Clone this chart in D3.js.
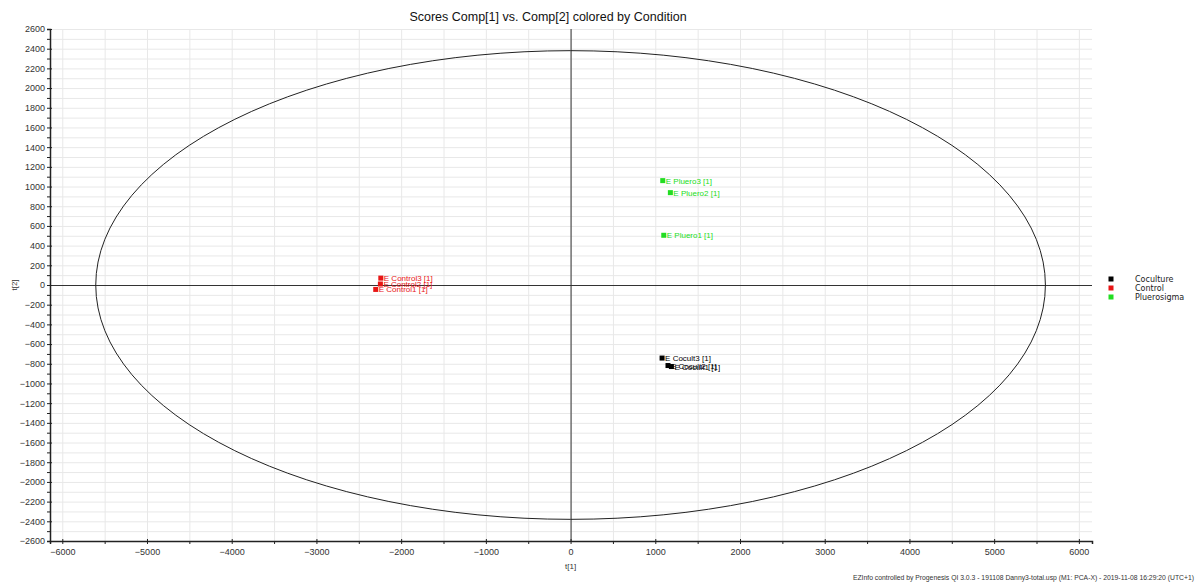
<!DOCTYPE html>
<html>
<head>
<meta charset="utf-8">
<script src="https://cdn.jsdelivr.net/npm/d3@7"></script>
<style>
body { margin:0; background:#fff; }
svg { display:block; }
</style>
</head>
<body>
<svg></svg>
<script>
var screen = {width:1197, height:585}
var margins = {top:29, right:105, bottom:44, left:50}

// observations
var obsNames = ["E Control3 [1]","E Control2 [1]","E Control1 [1]",
                "E Pluero3 [1]","E Pluero2 [1]","E Pluero1 [1]",
                "E Cocult3 [1]","E Cocult2 [1]","E Cocult1 [1]"]
var obsT1 = [-2240,-2245,-2300, 1088,1178,1100, 1080,1150,1190]
var obsT2 = [70,10,-45, 1060,938,505, -742,-818,-828]
var obsGroup = ["Control","Control","Control",
                "Pluerosigma","Pluerosigma","Pluerosigma",
                "Coculture","Coculture","Coculture"]

var groups = ["Coculture","Control","Pluerosigma"]
var groupColors = ["#000000","#e81515","#22dd22"]

var xTicks = d3.range(-6000, 6001, 1000)
var xMinor = d3.range(-5500, 6000, 1000)
var yTicks = d3.range(-2600, 2601, 200)
var yMinor = d3.range(-2500, 2600, 200)

// Hotelling T2 ellipse radii
var ellipseRx = 5605
var ellipseRy = 2380

var width = screen.width - margins.left - margins.right
var height = screen.height - margins.top - margins.bottom

var svg = d3.select("svg")
  .attr("width", screen.width)
  .attr("height", screen.height)

var xScale = d3.scaleLinear().domain([-6145, 6155]).range([0, width])
var yScale = d3.scaleLinear().domain([-2600, 2600]).range([height, 0])
var color = d3.scaleOrdinal().domain(groups).range(groupColors)

var g = svg.append("g")
  .attr("transform", "translate(" + margins.left + "," + margins.top + ")")

// grid
g.append("g").selectAll("line")
  .data(d3.range(-2600, 2601, 100))
  .enter().append("line")
  .attr("x1", 0).attr("x2", width)
  .attr("y1", function(d){ return yScale(d) + 0.5 })
  .attr("y2", function(d){ return yScale(d) + 0.5 })
  .attr("stroke", "#e8e8e8")

g.append("g").selectAll("line")
  .data(d3.range(-6000, 6001, 500))
  .enter().append("line")
  .attr("y1", 0).attr("y2", height)
  .attr("x1", function(d){ return xScale(d) + 0.5 })
  .attr("x2", function(d){ return xScale(d) + 0.5 })
  .attr("stroke", "#e8e8e8")

// zero lines
g.append("line")
  .attr("x1", 0).attr("x2", width)
  .attr("y1", yScale(0) + 0.5).attr("y2", yScale(0) + 0.5)
  .attr("stroke", "#333")
g.append("line")
  .attr("y1", 0).attr("y2", height)
  .attr("x1", xScale(0) + 0.5).attr("x2", xScale(0) + 0.5)
  .attr("stroke", "#333")

// ellipse
g.append("ellipse")
  .attr("cx", xScale(0)).attr("cy", yScale(0))
  .attr("rx", xScale(ellipseRx) - xScale(0))
  .attr("ry", yScale(0) - yScale(ellipseRy))
  .attr("fill", "none")
  .attr("stroke", "#222")
  .attr("stroke-width", 1)

// axes
var xAxis = d3.axisBottom(xScale).tickValues(xTicks).tickSize(3).tickPadding(5)
  .tickFormat(d3.format("d"))
var yAxis = d3.axisLeft(yScale).tickValues(yTicks).tickSize(3).tickPadding(2)
  .tickFormat(d3.format("d"))

var xa = g.append("g")
  .attr("transform", "translate(0," + height + ")")
  .call(xAxis)
xa.selectAll(".tick line").attr("y1", -2)
xa.append("g").call(d3.axisBottom(xScale).tickValues(xMinor).tickSize(3).tickFormat(""))
  .select(".domain").remove()

var ya = g.append("g").call(yAxis)
ya.selectAll(".tick line").attr("x1", 2)
ya.append("g").call(d3.axisLeft(yScale).tickValues(yMinor).tickSize(3).tickFormat(""))
  .select(".domain").remove()

svg.selectAll(".domain").attr("stroke", "#222").attr("stroke-width", 1.5)
svg.selectAll(".tick line").attr("stroke", "#222")
svg.selectAll(".tick text")
  .attr("fill", "#333")
  .style("font-family", "Liberation Sans, Arial, sans-serif")
  .style("font-size", "9px")

// points
var obs = obsNames.map(function(n, i){
  return {name:n, t1:obsT1[i], t2:obsT2[i], group:obsGroup[i]}
})

var pts = g.append("g").selectAll("g")
  .data(obs)
  .enter().append("g")
  .attr("transform", function(d){ return "translate(" + xScale(d.t1) + "," + yScale(d.t2) + ")" })

pts.append("rect")
  .attr("x", -2.5).attr("y", -2.5)
  .attr("width", 5).attr("height", 5)
  .attr("fill", function(d){ return color(d.group) })

pts.append("text")
  .attr("x", 3).attr("y", 3)
  .attr("fill", function(d){ return color(d.group) })
  .style("font-family", "Liberation Sans, Arial, sans-serif")
  .style("font-size", "8px")
  .text(function(d){ return d.name })

// legend
var legend = svg.append("g")
  .attr("transform", "translate(1111,279)")
var items = legend.selectAll("g")
  .data(groups)
  .enter().append("g")
  .attr("transform", function(d, i){ return "translate(0," + (i * 9) + ")" })
items.append("rect")
  .attr("x", -2.5).attr("y", -2.5)
  .attr("width", 5).attr("height", 5)
  .attr("fill", function(d){ return color(d) })
items.append("text")
  .attr("x", 24).attr("y", 3)
  .attr("fill", "#222")
  .style("font-family", "DejaVu Sans, Verdana, sans-serif")
  .style("font-size", "8px")
  .text(function(d){ return d })

// titles
svg.append("text")
  .attr("x", 548).attr("y", 21)
  .attr("text-anchor", "middle")
  .attr("fill", "#111")
  .style("font-family", "Liberation Sans, Arial, sans-serif")
  .style("font-size", "12.5px")
  .text("Scores Comp[1] vs. Comp[2] colored by Condition")

svg.append("text")
  .attr("x", margins.left + xScale(0)).attr("y", 569)
  .attr("text-anchor", "middle")
  .attr("fill", "#333")
  .style("font-family", "Liberation Sans, Arial, sans-serif")
  .style("font-size", "8px")
  .text("t[1]")

svg.append("text")
  .attr("transform", "translate(17," + (margins.top + yScale(0)) + ") rotate(-90)")
  .attr("text-anchor", "middle")
  .attr("fill", "#333")
  .style("font-family", "Liberation Sans, Arial, sans-serif")
  .style("font-size", "8px")
  .text("t[2]")

svg.append("text")
  .attr("x", 1194).attr("y", 580)
  .attr("text-anchor", "end")
  .attr("fill", "#333")
  .style("font-family", "Liberation Sans, Arial, sans-serif")
  .style("font-size", "6.8px")
  .text("EZInfo controlled by Progenesis QI 3.0.3 - 191108 Danny3-total.usp (M1: PCA-X) - 2019-11-08 16:29:20 (UTC+1)")
</script>
</body>
</html>
